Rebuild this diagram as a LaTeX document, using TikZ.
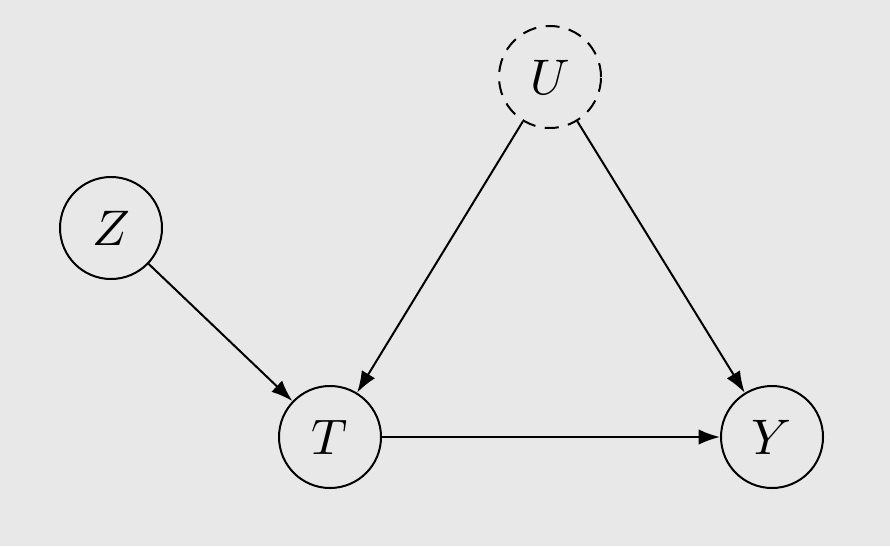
\documentclass[tikz,border=0pt]{standalone}
\usetikzlibrary{arrows.meta}
\definecolor{bg}{RGB}{232,232,232}
\begin{document}
\begin{tikzpicture}[x=0.2pt,y=-0.2pt,
  var/.style={circle,draw,line width=0.4pt,minimum size=20.4pt,inner sep=0pt,font=\normalsize},
  latent/.style={var,dashed,dash pattern=on 2.8pt off 1.9pt},
  edge/.style={line width=0.4pt,-{Latex[length=4.3pt,width=3.1pt]}}]
\fill[bg] (0,0) rectangle (890,546);
\useasboundingbox (0,0) rectangle (890,546);
\node[var] (Z) at (111,228) {$Z$};
\node[var] (T) at (330,437) {$T$};
\node[latent] (U) at (550,77) {$U$};
\node[var] (Y) at (772,437) {$Y$};
\draw[edge] (Z) -- (T);
\draw[edge] (U) -- (T);
\draw[edge] (U) -- (Y);
\draw[edge] (T) -- (Y);
\end{tikzpicture}
\end{document}
